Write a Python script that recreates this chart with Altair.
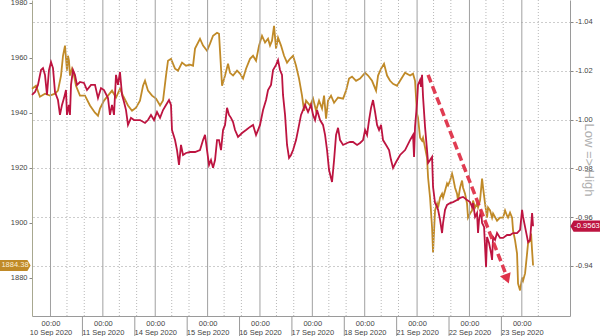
import altair as alt
import pandas as pd

# ---------------- data ----------------
day_labels = ["10 Sep 2020", "11 Sep 2020", "14 Sep 2020", "15 Sep 2020", "16 Sep 2020",
              "17 Sep 2020", "18 Sep 2020", "21 Sep 2020", "22 Sep 2020", "23 Sep 2020"]
day_pos = [0, 1, 2, 3, 4, 5, 6, 7, 8, 9]
minor_pos = [0.315, 0.645, 1.315, 1.645, 2.315, 2.645, 3.315, 3.645, 4.315, 4.645,
             5.315, 5.645, 6.315, 6.645, 7.315, 7.645, 8.315, 8.645, 9.315]
sep_pos = [0.61, 1.61, 2.61, 3.61, 4.61, 5.61, 6.61, 7.61, 8.61]

left_ticks = [1880, 1900, 1920, 1940, 1960, 1980]
right_ticks = [-1.04, -1.02, -1.00, -0.98, -0.96, -0.94]

# gold price (left axis): (trading-day index, price)
gold_points = [
    (-0.353, 1948.7), (-0.277, 1949.8), (-0.201, 1945.8), (-0.105, 1946.9), (-0.010, 1946.2),
    (0.086, 1946.9), (0.143, 1948.0), (0.201, 1953.5), (0.239, 1960.7), (0.277, 1964.4),
    (0.315, 1955.3), (0.334, 1960.7), (0.353, 1958.9), (0.372, 1953.5), (0.411, 1956.0),
    (0.449, 1953.5), (0.487, 1949.8), (0.563, 1946.2), (0.659, 1946.2), (0.754, 1942.6),
    (0.850, 1940.0), (0.907, 1938.9), (0.945, 1941.5), (1.022, 1944.4), (1.098, 1946.2),
    (1.175, 1948.0), (1.251, 1945.5), (1.327, 1948.7), (1.385, 1946.2), (1.480, 1942.6),
    (1.557, 1940.7), (1.633, 1941.8), (1.709, 1944.4), (1.767, 1949.8), (1.805, 1951.6),
    (1.862, 1948.0), (1.939, 1946.2), (2.015, 1945.1), (2.092, 1942.6), (2.149, 1944.4),
    (2.206, 1953.5), (2.244, 1958.9), (2.301, 1959.6), (2.378, 1956.0), (2.435, 1955.3),
    (2.512, 1958.2), (2.588, 1957.1), (2.664, 1957.5), (2.722, 1957.1), (2.760, 1963.3),
    (2.855, 1966.9), (2.913, 1964.4), (2.989, 1962.5), (3.046, 1965.1), (3.104, 1968.0),
    (3.180, 1969.1), (3.218, 1968.7), (3.237, 1962.5), (3.276, 1949.8), (3.333, 1953.5),
    (3.390, 1957.8), (3.428, 1954.5), (3.486, 1953.5), (3.562, 1955.3), (3.619, 1954.2),
    (3.677, 1952.4), (3.734, 1956.0), (3.810, 1959.6), (3.868, 1960.7), (3.925, 1958.9),
    (3.982, 1964.4), (4.039, 1968.0), (4.097, 1965.5), (4.154, 1966.9), (4.192, 1964.4),
    (4.230, 1966.2), (4.269, 1971.6), (4.307, 1963.3), (4.345, 1967.3), (4.402, 1964.4),
    (4.460, 1960.7), (4.517, 1958.2), (4.574, 1959.6), (4.632, 1960.7), (4.689, 1957.1),
    (4.746, 1952.4), (4.803, 1946.2), (4.842, 1940.7), (4.880, 1944.4), (4.956, 1942.6),
    (5.014, 1945.1), (5.071, 1940.7), (5.128, 1944.4), (5.185, 1941.5), (5.224, 1946.2),
    (5.262, 1937.8), (5.300, 1944.4), (5.357, 1946.2), (5.415, 1943.6), (5.491, 1945.5),
    (5.587, 1945.1), (5.644, 1948.0), (5.701, 1952.4), (5.758, 1953.1), (5.835, 1951.6),
    (5.911, 1952.4), (6.007, 1954.5), (6.064, 1953.5), (6.140, 1951.6), (6.217, 1948.0),
    (6.255, 1953.5), (6.312, 1956.0), (6.369, 1957.8), (6.427, 1953.5), (6.484, 1951.6),
    (6.541, 1950.5), (6.618, 1949.8), (6.675, 1951.6), (6.770, 1954.5), (6.866, 1953.5),
    (6.923, 1954.2), (6.961, 1951.6), (6.999, 1939.6), (7.018, 1938.2), (7.057, 1930.9),
    (7.095, 1929.8), (7.114, 1930.9), (7.152, 1927.3), (7.190, 1923.6), (7.210, 1916.4),
    (7.248, 1909.1), (7.286, 1898.2), (7.305, 1889.1), (7.343, 1904.4), (7.382, 1906.9),
    (7.401, 1905.5), (7.439, 1909.1), (7.477, 1910.5), (7.496, 1909.1), (7.534, 1911.6),
    (7.572, 1914.2), (7.591, 1913.5), (7.630, 1915.3), (7.668, 1917.8), (7.687, 1916.4),
    (7.725, 1912.7), (7.763, 1910.5), (7.782, 1908.0), (7.821, 1912.7), (7.859, 1915.3),
    (7.878, 1912.7), (7.916, 1910.5), (7.954, 1906.9), (7.973, 1901.8), (8.012, 1903.3),
    (8.050, 1904.4), (8.069, 1908.0), (8.107, 1905.5), (8.145, 1906.9), (8.164, 1905.5),
    (8.202, 1908.0), (8.241, 1916.0), (8.260, 1912.7), (8.298, 1906.9), (8.336, 1901.8),
    (8.355, 1905.5), (8.394, 1904.4), (8.432, 1901.8), (8.451, 1903.3), (8.527, 1900.7),
    (8.584, 1901.8), (8.642, 1901.8), (8.680, 1904.4), (8.718, 1902.5), (8.737, 1901.8),
    (8.775, 1903.6), (8.814, 1901.8), (8.833, 1897.1), (8.871, 1893.5), (8.909, 1888.7),
    (8.928, 1877.8), (8.967, 1875.3), (9.005, 1880.0), (9.024, 1878.9), (9.062, 1881.5),
    (9.100, 1888.7), (9.119, 1892.4), (9.158, 1893.5), (9.177, 1896.0), (9.196, 1889.8),
    (9.215, 1884.38),
]

# second series (right axis, inverted): (trading-day index, value)
red_points = [
    (-0.353, -1.0101), (-0.296, -1.0113), (-0.239, -1.0142), (-0.181, -1.0203), (-0.143, -1.0211),
    (-0.105, -1.0183), (-0.067, -1.0101), (-0.029, -1.0203), (0.010, -1.0236), (0.048, -1.0211),
    (0.086, -1.0113), (0.143, -1.0080), (0.181, -1.0019), (0.220, -1.0060), (0.258, -1.0088),
    (0.296, -1.0121), (0.315, -1.0019), (0.353, -1.0060), (0.372, -1.0019), (0.392, -1.0142),
    (0.430, -1.0203), (0.468, -1.0183), (0.506, -1.0142), (0.563, -1.0154), (0.640, -1.0150),
    (0.697, -1.0121), (0.774, -1.0142), (0.850, -1.0142), (0.907, -1.0088), (0.965, -1.0129),
    (1.022, -1.0121), (1.098, -1.0088), (1.136, -1.0019), (1.175, -1.0060), (1.213, -1.0019),
    (1.251, -1.0183), (1.289, -1.0142), (1.327, -1.0195), (1.366, -1.0101), (1.404, -1.0072),
    (1.442, -1.0039), (1.480, -0.9978), (1.537, -1.0007), (1.595, -0.9998), (1.709, -0.9998),
    (1.805, -0.9986), (1.862, -0.9998), (1.919, -1.0019), (1.977, -0.9998), (2.034, -1.0031),
    (2.092, -1.0007), (2.149, -1.0039), (2.206, -1.0060), (2.263, -1.0080), (2.301, -1.0060),
    (2.320, -0.9957), (2.378, -0.9916), (2.416, -0.9875), (2.454, -0.9814), (2.492, -0.9896),
    (2.531, -0.9855), (2.588, -0.9863), (2.664, -0.9867), (2.760, -0.9867), (2.855, -0.9875),
    (2.913, -0.9916), (2.951, -0.9937), (2.989, -0.9875), (3.027, -0.9814), (3.065, -0.9834),
    (3.104, -0.9802), (3.142, -0.9834), (3.180, -0.9916), (3.218, -0.9916), (3.256, -0.9875),
    (3.295, -0.9957), (3.333, -0.9978), (3.371, -1.0048), (3.409, -1.0019), (3.447, -1.0007),
    (3.486, -0.9990), (3.524, -0.9957), (3.581, -0.9929), (3.658, -0.9945), (3.734, -0.9957),
    (3.810, -0.9970), (3.868, -0.9978), (3.925, -0.9937), (3.963, -0.9957), (4.001, -0.9978),
    (4.059, -1.0039), (4.116, -1.0080), (4.154, -1.0121), (4.211, -1.0142), (4.250, -1.0203),
    (4.307, -1.0224), (4.345, -1.0244), (4.383, -1.0203), (4.421, -1.0183), (4.440, -1.0101),
    (4.479, -1.0019), (4.517, -0.9896), (4.555, -0.9843), (4.593, -0.9855), (4.632, -0.9875),
    (4.689, -0.9916), (4.727, -0.9957), (4.784, -1.0019), (4.822, -1.0039), (4.861, -1.0060),
    (4.918, -1.0031), (4.975, -1.0060), (5.014, -1.0019), (5.052, -0.9998), (5.090, -1.0039),
    (5.147, -0.9998), (5.204, -0.9978), (5.243, -0.9937), (5.281, -0.9875), (5.319, -0.9793),
    (5.376, -0.9744), (5.415, -0.9834), (5.453, -0.9937), (5.491, -0.9966), (5.529, -0.9916),
    (5.587, -0.9896), (5.663, -0.9904), (5.720, -0.9908), (5.777, -0.9908), (5.854, -0.9896),
    (5.911, -0.9904), (5.968, -0.9916), (6.007, -0.9957), (6.045, -0.9937), (6.083, -0.9998),
    (6.121, -1.0048), (6.159, -1.0080), (6.198, -1.0031), (6.236, -0.9978), (6.274, -0.9957),
    (6.312, -0.9978), (6.350, -0.9916), (6.408, -0.9896), (6.465, -0.9875), (6.503, -0.9834),
    (6.541, -0.9802), (6.599, -0.9826), (6.675, -0.9855), (6.771, -0.9875), (6.866, -0.9916),
    (6.923, -0.9937), (6.942, -0.9847), (6.961, -0.9970), (6.999, -1.0068), (7.018, -1.0142),
    (7.057, -1.0162), (7.076, -1.0134), (7.095, -1.0183), (7.114, -1.0093), (7.152, -0.9970),
    (7.190, -0.9875), (7.210, -0.9822), (7.248, -0.9834), (7.286, -0.9847), (7.305, -0.9724),
    (7.343, -0.9658), (7.382, -0.9642), (7.401, -0.9630), (7.439, -0.9589), (7.477, -0.9535),
    (7.496, -0.9576), (7.534, -0.9630), (7.572, -0.9650), (7.630, -0.9658), (7.687, -0.9662),
    (7.763, -0.9670), (7.821, -0.9679), (7.878, -0.9683), (7.954, -0.9670), (8.012, -0.9662),
    (8.050, -0.9642), (8.069, -0.9658), (8.107, -0.9601), (8.145, -0.9617), (8.164, -0.9535),
    (8.183, -0.9589), (8.222, -0.9630), (8.241, -0.9576), (8.279, -0.9560), (8.317, -0.9396),
    (8.336, -0.9519), (8.374, -0.9494), (8.413, -0.9453), (8.432, -0.9425), (8.451, -0.9519),
    (8.489, -0.9507), (8.527, -0.9535), (8.584, -0.9515), (8.642, -0.9515), (8.718, -0.9527),
    (8.775, -0.9527), (8.833, -0.9535), (8.909, -0.9535), (8.967, -0.9548), (9.005, -0.9630),
    (9.024, -0.9601), (9.062, -0.9560), (9.100, -0.9519), (9.119, -0.9498), (9.158, -0.9507),
    (9.196, -0.9617), (9.215, -0.9563),
]

# dashed annotation arrow (in right-axis units)
arrow_t = [7.210, 8.680]
arrow_r = [-1.0183, -0.9375]
arrow_head = (8.718, -0.9347)

gold_label = "1884.38"
red_label = "-0.9563"
side_title = "Low => High"

GOLD = "#c08a28"
RED = "#bd1440"
ARROW = "#de3149"
FONT = "Liberation Sans"

W, H = 538, 316

# ---------------- frames ----------------
gold_df = pd.DataFrame(gold_points, columns=["t", "v"])
red_df = pd.DataFrame(red_points, columns=["t", "r"])
day_df = pd.DataFrame({"t": day_pos})
minor_df = pd.DataFrame({"t": minor_pos})
sep_df = pd.DataFrame({"t": sep_pos})
arrow_df = pd.DataFrame({"t": arrow_t, "r": arrow_r})
head_df = pd.DataFrame({"t": [arrow_head[0]], "r": [arrow_head[1]]})
gold_last = pd.DataFrame({"v": [gold_points[-1][1]], "lbl": [gold_label]})
red_last = pd.DataFrame({"r": [red_points[-1][1]], "lbl": [red_label]})
title_df = pd.DataFrame({"lbl": [side_title]})

# ---------------- encodings ----------------
label_expr = "['00:00', [" + ",".join("'" + d + "'" for d in day_labels) + "][datum.value]]"
X = alt.X(
    "t:Q",
    scale=alt.Scale(domain=[-0.353, 9.92], nice=False, zero=False),
    axis=alt.Axis(values=day_pos, labelExpr=label_expr, grid=False, ticks=False,
                  domainColor="#9a9a9a", labelFontSize=7.5, labelColor="#444",
                  labelPadding=3, labelLineHeight=9.5, labelFlush=False, title=None),
)
YL = alt.Y(
    "v:Q",
    scale=alt.Scale(domain=[1866, 1981], nice=False, zero=False),
    axis=alt.Axis(orient="left", values=left_ticks, format="d", grid=False, tickSize=3,
                  tickColor="#888", domainColor="#a8a890", labelFontSize=7.5,
                  labelColor="#444", labelPadding=2, title=None),
)
YR = alt.Y(
    "r:Q",
    scale=alt.Scale(domain=[-1.049, -0.9195], reverse=True, nice=False, zero=False),
    axis=alt.Axis(orient="right", values=right_ticks,
                  labelExpr="replace(format(datum.value, '.2f'), '\u2212', '-')",
                  grid=True, gridDash=[1, 3], gridColor="#9a9a9a", gridWidth=1,
                  tickSize=3, tickColor="#888", domainColor="#9a9a9a",
                  labelFontSize=7.5, labelColor="#444", labelPadding=2, title=None),
)

# ---------------- left (gold) group ----------------
vgrid = alt.Chart(day_df).mark_rule(color="#a0a0a0", strokeWidth=1).encode(x=X)
vminor = alt.Chart(minor_df).mark_rule(color="#b8b8b8", strokeWidth=1, strokeDash=[1, 2]).encode(x=X)
seps = alt.Chart(sep_df).mark_rule(color="#9a9a9a", strokeWidth=1).encode(
    x=X, y=alt.value(H), y2=alt.value(H + 20))
gold_line = alt.Chart(gold_df).mark_line(color=GOLD, strokeWidth=1.8).encode(x=X, y=YL)

left_badge_path = "M -2 -0.7 L 1.55 -0.7 L 1.95 0 L 1.55 0.7 L -2 0.7 Z"
gold_badge = alt.Chart(gold_last).mark_point(
    shape=left_badge_path, size=256, filled=True, color=GOLD, opacity=1, strokeWidth=0
).encode(x=alt.value(-17), y=YL)
gold_badge_txt = alt.Chart(gold_last).mark_text(
    color="#fbeed8", fontSize=7.5, font=FONT
).encode(x=alt.value(-17), y=YL, text="lbl:N")

left_group = alt.layer(gold_line, vgrid, vminor, seps, gold_badge, gold_badge_txt)

# ---------------- right (red) group ----------------
red_line = alt.Chart(red_df).mark_line(color=RED, strokeWidth=1.8).encode(x=X, y=YR)
arrow_line = alt.Chart(arrow_df).mark_line(
    color=ARROW, strokeWidth=3.5, strokeDash=[8, 4], opacity=0.95
).encode(x=X, y=YR)
arrow_tip = alt.Chart(head_df).mark_point(
    shape="triangle-down", size=130, filled=True, color=ARROW, opacity=1, angle=339, strokeWidth=0
).encode(x=X, y=YR)

right_badge_path = "M -1.95 0 L -1.55 -0.7 L 2 -0.7 L 2 0.7 L -1.55 0.7 Z"
red_badge = alt.Chart(red_last).mark_point(
    shape=right_badge_path, size=256, filled=True, color=RED, opacity=1, strokeWidth=0
).encode(x=alt.value(W + 16), y=YR)
red_badge_txt = alt.Chart(red_last).mark_text(
    color="#ffffff", fontSize=7.5, font=FONT
).encode(x=alt.value(W + 17), y=YR, text="lbl:N")
side_txt = alt.Chart(title_df).mark_text(
    color="#b0b0b0", fontSize=13, font=FONT, angle=90
).encode(x=alt.value(W + 19), y=alt.value(160), text="lbl:N")

right_group = alt.layer(red_line, arrow_line, arrow_tip, red_badge, red_badge_txt, side_txt)

chart = (
    alt.layer(left_group, right_group)
    .resolve_scale(y="independent")
    .properties(
        width=W, height=H,
        padding={"left": 32, "right": 30, "top": 0, "bottom": 20},
        autosize=alt.AutoSizeParams(type="none"),
        background="white",
    )
    .configure_view(stroke=None)
    .configure_axis(labelFont=FONT)
)

chart.save("out.html", embed_options={"renderer": "svg", "actions": False})
